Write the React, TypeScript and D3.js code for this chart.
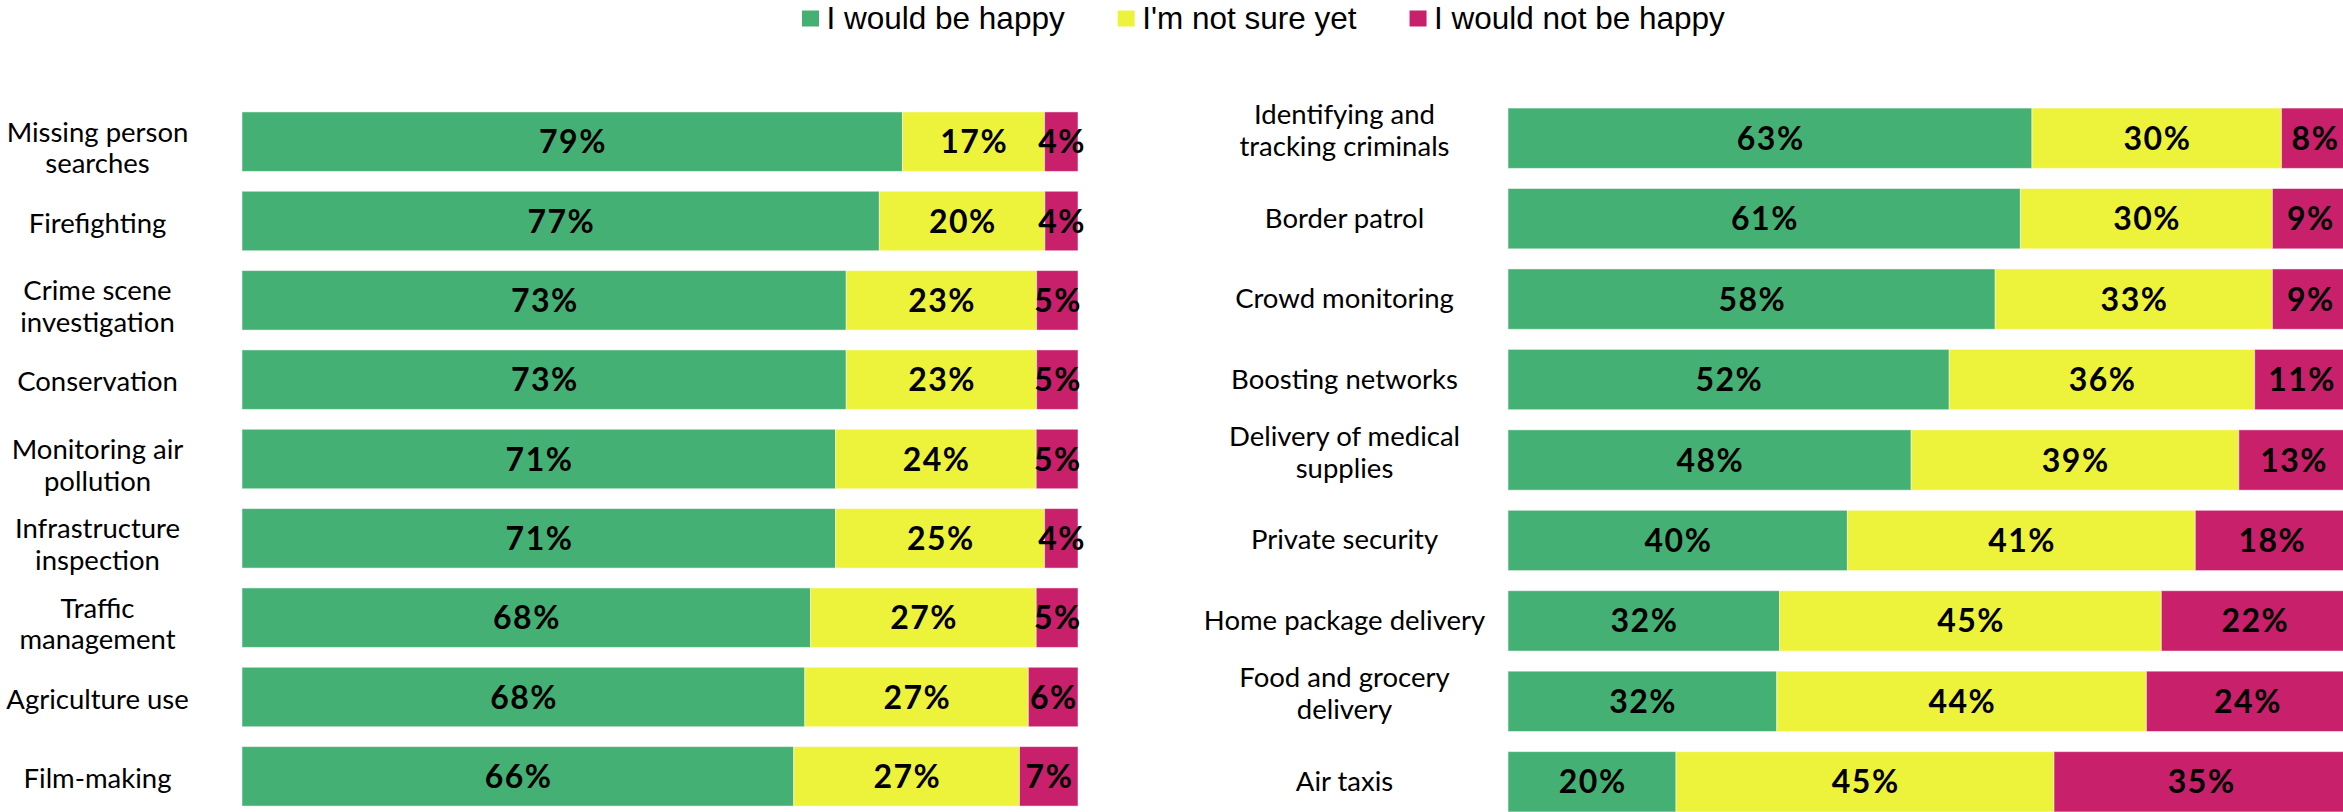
import React, { useEffect, useRef } from 'react';
import * as d3 from 'd3';

const seriesKeys = ['happy', 'notSure', 'notHappy'];
const seriesNames = ['I would be happy', "I'm not sure yet", 'I would not be happy'];
const seriesColors = ['#44b073', '#edf33a', '#c8206b'];

const leftCategories = [
  'Missing person\nsearches',
  'Firefighting',
  'Crime scene\ninvestigation',
  'Conservation',
  'Monitoring air\npollution',
  'Infrastructure\ninspection',
  'Traffic\nmanagement',
  'Agriculture use',
  'Film-making',
];
const leftHappy = [79, 77, 73, 73, 71, 71, 68, 68, 66];
const leftNotSure = [17, 20, 23, 23, 24, 25, 27, 27, 27];
const leftNotHappy = [4, 4, 5, 5, 5, 4, 5, 6, 7];

const rightCategories = [
  'Identifying and\ntracking criminals',
  'Border patrol',
  'Crowd monitoring',
  'Boosting networks',
  'Delivery of medical\nsupplies',
  'Private security',
  'Home package delivery',
  'Food and grocery\ndelivery',
  'Air taxis',
];
const rightHappy = [63, 61, 58, 52, 48, 40, 32, 32, 20];
const rightNotSure = [30, 30, 33, 36, 39, 41, 45, 44, 45];
const rightNotHappy = [8, 9, 9, 11, 13, 18, 22, 24, 35];

const W = 2343;
const H = 812;

type Row = { cat: string; happy: number; notSure: number; notHappy: number };

function buildRows(cats: string[], a: number[], b: number[], c: number[]): Row[] {
  return cats.map((cat, i) => ({ cat, happy: a[i], notSure: b[i], notHappy: c[i] }));
}

export default function App() {
  const ref = useRef<SVGSVGElement | null>(null);

  useEffect(() => {
    if (!ref.current) return;
    document.body.style.margin = '0';
    document.body.style.overflow = 'hidden';
    const svg = d3.select(ref.current);
    svg.selectAll('*').remove();

    const stack = d3.stack<Row>().keys(seriesKeys).offset(d3.stackOffsetExpand);
    const color = d3.scaleOrdinal<string, string>().domain(seriesKeys).range(seriesColors);

    const panels = [
      {
        rows: buildRows(leftCategories, leftHappy, leftNotSure, leftNotHappy),
        x: [242, 1078], y: [102, 816], labelX: 97.5, twoLineOffset: 0, oneLineOffset: 11.5,
      },
      {
        rows: buildRows(rightCategories, rightHappy, rightNotSure, rightNotHappy),
        x: [1508, 2348], y: [98, 822], labelX: 1344.5, twoLineOffset: -14, oneLineOffset: 9,
      },
    ];

    panels.forEach((p) => {
      const xs = d3.scaleLinear().domain([0, 1]).range(p.x);
      const ys = d3.scaleBand<string>()
        .domain(p.rows.map((r) => r.cat))
        .range(p.y)
        .paddingInner(0.25)
        .paddingOuter(0.125);
      const stacked = stack(p.rows);
      const g = svg.append('g');

      const layers = g.selectAll('g.layer')
        .data(stacked)
        .enter()
        .append('g')
        .attr('fill', (d) => color(d.key));

      layers.selectAll('rect')
        .data((d) => d)
        .enter()
        .append('rect')
        .attr('x', (d) => xs(d[0]))
        .attr('y', (d) => ys(d.data.cat) || 0)
        .attr('width', (d) => xs(d[1]) - xs(d[0]))
        .attr('height', ys.bandwidth())
        .attr('stroke', '#ffffff')
        .attr('stroke-opacity', 0.5)
        .attr('stroke-width', 1);

      // value labels, centred in each segment
      stacked.forEach((layer) => {
        g.selectAll(null)
          .data(layer)
          .enter()
          .append('text')
          .attr('x', (d) => (xs(d[0]) + xs(d[1])) / 2 + 0.75)
          .attr('y', (d) => (ys(d.data.cat) || 0) + ys.bandwidth() / 2 + 11.5)
          .attr('text-anchor', 'middle')
          .style('font-family', 'Lato, sans-serif')
          .style('font-weight', 700)
          .style('font-size', '32px')
          .style('letter-spacing', '1.5px')
          .attr('fill', '#000')
          .text((d) => `${(d.data as any)[layer.key]}%`);
      });

      // category labels
      p.rows.forEach((r) => {
        const lines = r.cat.split('\n');
        const c = (ys(r.cat) || 0) + ys.bandwidth() / 2;
        const y0 = lines.length > 1 ? c + p.twoLineOffset : c + p.oneLineOffset;
        const t = g.append('text')
          .attr('text-anchor', 'middle')
          .style('font-family', 'Lato, sans-serif')
          .style('font-size', '27.5px')
          .attr('fill', '#000');
        lines.forEach((ln, i) => {
          t.append('tspan').attr('x', p.labelX).attr('y', y0 + i * 31.7).text(ln);
        });
      });
    });

    // legend
    const legend = svg.append('g');
    let lx = 802;
    seriesKeys.forEach((k, i) => {
      legend.append('rect')
        .attr('x', lx)
        .attr('y', 10.5)
        .attr('width', 17)
        .attr('height', 16)
        .attr('fill', color(k));
      const t = legend.append('text')
        .attr('x', lx + 24.5)
        .attr('y', 28.5)
        .style('font-family', '"Liberation Sans", Arial, sans-serif')
        .style('font-size', '31.5px')
        .attr('fill', '#000')
        .text(seriesNames[i]);
      const w = (t.node() as SVGTextElement).getComputedTextLength();
      lx = lx + 24.5 + w + 53;
    });
  }, []);

  return (
    <svg
      ref={ref}
      width={W}
      height={H}
      style={{ position: 'absolute', left: 0, top: 0, display: 'block', background: '#fff' }}
    />
  );
}
